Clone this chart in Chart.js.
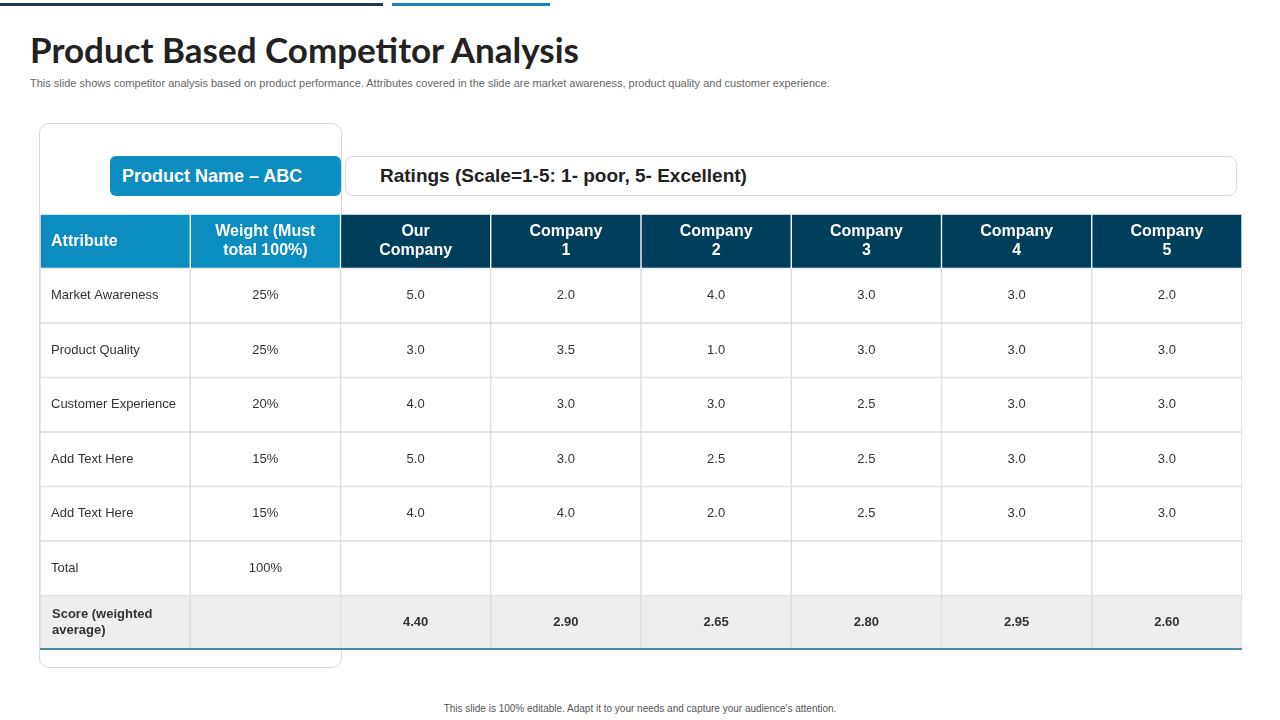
<!DOCTYPE html>
<html><head><meta charset="utf-8">
<script src="https://cdn.jsdelivr.net/npm/chart.js@4"></script>
<style>
body{margin:0;width:1280px;height:720px;background:#fff;font-family:"Liberation Sans",Arial,sans-serif;position:relative;overflow:hidden}
.abs{position:absolute}
</style></head><body>
<div class="abs" style="left:0;top:3px;width:383px;height:3px;background:#1f3a4e"></div>
<div class="abs" style="left:392px;top:3px;width:158px;height:3px;background:#1583b5"></div>
<div class="abs" style="left:30px;top:28px;font:bold 35px Lato,'Open Sans',sans-serif;color:#222">Product Based Competitor Analysis</div>
<div class="abs" style="left:30px;top:77px;font-size:11px;color:#666">This slide shows competitor analysis based on product performance. Attributes covered in the slide are market awareness, product quality and customer experience.</div>
<div class="abs" style="left:39px;top:123px;width:301px;height:543px;border:1px solid #d9d9d9;border-radius:10px"></div>
<div class="abs" style="left:110px;top:156px;width:231px;height:40px;background:#0b8dbf;border-radius:6px;color:#fff;font:bold 18px 'Liberation Sans',Arial;line-height:40px;box-sizing:border-box;padding-left:12px">Product Name – ABC</div>
<div class="abs" style="left:345px;top:156px;width:892px;height:40px;border:1px solid #d9d9d9;border-radius:8px;box-sizing:border-box;font:bold 19px 'Liberation Sans',Arial;line-height:38px;padding-left:34px;color:#222">Ratings (Scale=1-5: 1- poor, 5- Excellent)</div>
<canvas id="c" width="1202" height="436" class="abs" style="left:40px;top:214px"></canvas>
<div class="abs" style="left:0;width:1280px;top:703px;text-align:center;font-size:10px;color:#555">This slide is 100% editable.  Adapt it to your needs and capture your audience's attention.</div>
<script>
const attributes=['Market Awareness','Product Quality','Customer Experience','Add Text Here','Add Text Here','Total'];
const weights=['25%','25%','20%','15%','15%','100%'];
const companies=['Our\nCompany','Company\n1','Company\n2','Company\n3','Company\n4','Company\n5'];
const ourCompany=[5.0,3.0,4.0,5.0,4.0];
const company1=[2.0,3.5,3.0,3.0,4.0];
const company2=[4.0,1.0,3.0,2.5,2.0];
const company3=[3.0,3.0,2.5,2.5,2.5];
const company4=[3.0,3.0,3.0,3.0,3.0];
const company5=[2.0,3.0,3.0,3.0,3.0];
const scores=[4.40,2.90,2.65,2.80,2.95,2.60];
const ratings=[ourCompany,company1,company2,company3,company4,company5];
const rowIds=['h',...attributes.map((a,i)=>'r'+i),'s'];
const nRows=rowIds.length, nCols=8;
// text matrix
const texts=[];
for(let r=0;r<nRows;r++){texts.push([]);for(let c=0;c<nCols;c++){let t='';
 if(r===0){t=c===0?'Attribute':c===1?'Weight (Must\ntotal 100%)':companies[c-2];}
 else if(r===nRows-1){t=c===0?'Score (weighted\naverage)':c===1?'':scores[c-2].toFixed(2);}
 else{const i=r-1;t=c===0?attributes[i]:c===1?weights[i]:(i<5?ratings[c-2][i].toFixed(1):'');}
 texts[r].push(t);}}
const datasets=[];
for(let c=0;c<nCols;c++){
 datasets.push({data:rowIds.map(()=>[c,c+1]),
  backgroundColor:ctx=>{const r=ctx.dataIndex;if(r===0)return c<2?'#0b8dbf':'#003f5c';if(r===nRows-1)return '#eeeeee';return '#ffffff';},
  borderColor:ctx=>ctx.dataIndex===0?'#ffffff':'#dcdcdc',borderWidth:1,borderSkipped:false,
  barPercentage:1,categoryPercentage:1,grouped:false});
}
const textPlugin={id:'t',afterDatasetsDraw(chart){
 const ctx=chart.ctx;
 chart.data.datasets.forEach((d,c)=>{chart.getDatasetMeta(c).data.forEach((el,r)=>{
  const p=el.getProps(['x','y','base'],true);const t=texts[r][c];if(!t)return;
  const lines=t.split('\n');
  let font,color='#333';
  if(r===0){font='bold 16px "Liberation Sans",Arial';color='#fff';}
  else if(r===nRows-1)font='bold 13px "Liberation Sans",Arial';
  else font='13px "Liberation Sans",Arial';
  if(r===0 && c===0) font='bold 16px "Liberation Sans",Arial';
  ctx.save();ctx.font=font;ctx.fillStyle=color;ctx.textBaseline='middle';
  let x;
  if(c===0){ctx.textAlign='left';x=Math.min(p.base,p.x)+(r===nRows-1?12:11);}else{ctx.textAlign='center';x=(p.base+p.x)/2;}
  const lh=r===0?19:16;
  lines.forEach((l,k)=>ctx.fillText(l,x,p.y+(k-(lines.length-1)/2)*lh));
  ctx.restore();});});
 const ys=chart.scales.y;const yb=ys.getPixelForValue(nRows-1)+ (ys.getPixelForValue(1)-ys.getPixelForValue(0))/2;
 ctx.save();ctx.strokeStyle='#1a6a8a';ctx.lineWidth=1.5;ctx.beginPath();ctx.moveTo(chart.scales.x.getPixelForValue(0),yb-1);ctx.lineTo(chart.scales.x.getPixelForValue(8),yb-1);ctx.stroke();ctx.restore();
}};
new Chart(document.getElementById('c'),{type:'bar',data:{labels:rowIds,datasets},
 options:{indexAxis:'y',responsive:false,animation:false,layout:{padding:0},
  plugins:{legend:{display:false},tooltip:{enabled:false}},
  scales:{x:{type:'linear',min:0,max:8,display:false},y:{display:false}}},plugins:[textPlugin]});
</script></body></html>
